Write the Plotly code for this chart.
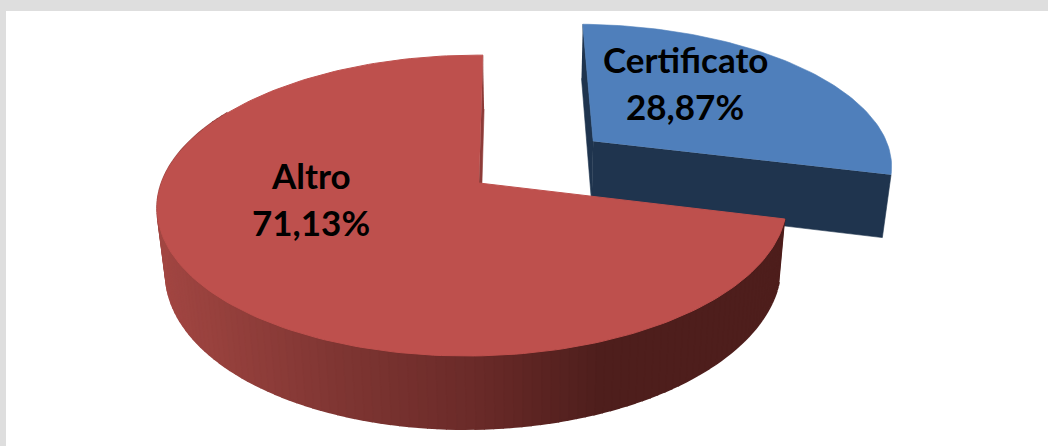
import numpy as np
import plotly.graph_objects as go

# data
categories = ["Certificato", "Altro"]
values = [28.87, 71.13]
colors_top = ["#4F7FBB", "#BE504D"]
color_blue_wall = "#1F344E"
color_red_cut = "#8E3B38"

# projection of the tilted pie onto the page (pixels)
CX, CY = 479, 183
A, B = 311, 147
C_SKEW, E_SKEW = 0, 4.6
K, M = 0.15, 0.02
DEPTH = 62
VANISH_X, SHRINK = 530, 0.023
EXPLODE = 0.485
BLUE_WIDEN = 1.02
BLUE_DEPTH = 1.05


def project(u, v, z=0.0):
    s = 1 / (1 + K * v + M * u)
    x = CX + (A * u + E_SKEW * v) * s
    y = CY + (C_SKEW * u - B * v) * s + z * DEPTH * s
    x = VANISH_X + (x - VANISH_X) * (1 - SHRINK * z)
    return x, y


def polar(theta):
    rad = np.radians(theta)
    return np.sin(rad), np.cos(rad)


def wall_color(x):
    r = np.interp(x, [157, 330, 480, 600, 790], [162, 128, 105, 78, 78])
    g = np.interp(x, [157, 330, 480, 600, 790], [70, 54, 42, 30, 30])
    b = np.interp(x, [157, 330, 480, 600, 790], [66, 51, 40, 28, 28])
    return f"rgb({r:.0f},{g:.0f},{b:.0f})"


def poly(fig, xs, ys, color, width=0.6):
    fig.add_trace(go.Scatter(x=list(xs), y=list(ys), mode="lines", fill="toself",
                             fillcolor=color, line=dict(color=color, width=width),
                             hoverinfo="skip", showlegend=False))


fig = go.Figure()

blue_sweep = values[0] / sum(values) * 360
mid = polar(blue_sweep / 2)
ou, ov = EXPLODE * mid[0], EXPLODE * mid[1]

# exploded slice
theta = np.linspace(0, blue_sweep, 80)
u, v = polar(theta)
u = u * BLUE_WIDEN
x_t, y_t = project(u + ou, v + ov)
ax, ay = project(ou, ov)
ax_b, ay_b = project(ou, ov, BLUE_DEPTH)
xb_s, yb_s = project(u[0] + ou, v[0] + ov, BLUE_DEPTH)
xb_e, yb_e = project(u[-1] + ou, v[-1] + ov, BLUE_DEPTH)
poly(fig, [x_t[0], ax, ax_b, xb_s], [y_t[0], ay, ay_b, yb_s], color_blue_wall)
poly(fig, [ax, x_t[-1], xb_e, ax_b], [ay, y_t[-1], yb_e, ay_b], color_blue_wall)
poly(fig, [ax, *x_t], [ay, *y_t], colors_top[0])

# big slice: outer wall in thin bands for the shading
edges = np.linspace(blue_sweep, 300, 130)
for t0, t1 in zip(edges[:-1], edges[1:]):
    u0, v0 = polar(t0)
    u1, v1 = polar(t1)
    x0, y0 = project(u0, v0)
    x1, y1 = project(u1, v1)
    x2, y2 = project(u1, v1, 1)
    x3, y3 = project(u0, v0, 1)
    poly(fig, [x0, x1, x2, x3], [y0, y1, y2, y3], wall_color((x0 + x1) / 2), width=2)

# cut face beside the gap
x_s, y_s = project(0, 1)
x_sb, y_sb = project(0, 1, 1)
cx_b, cy_b = project(0, 0, 1)
poly(fig, [x_s, CX, cx_b, x_sb], [y_s, CY, cy_b, y_sb], color_red_cut)

theta = np.linspace(blue_sweep, 360, 200)
u, v = polar(theta)
x_t, y_t = project(u, v)
poly(fig, [CX, *x_t], [CY, *y_t], colors_top[1], width=1)

# labels
label_pos = {"Certificato": (685, 59, 106), "Altro": (311, 175, 222)}
for name, val in zip(categories, values):
    lx, ly1, ly2 = label_pos[name]
    for txt, ly in ((name, ly1), (f"{val:.2f}%".replace(".", ","), ly2)):
        fig.add_annotation(x=lx, y=ly, text=txt, showarrow=False,
                           font=dict(family="Lato", size=35, color="#000000", weight="bold"))

fig.add_shape(type="rect", x0=6, y0=11, x1=1048, y1=446, fillcolor="#FFFFFF",
              line_width=0, layer="below")
fig.update_xaxes(range=[0, 1048], visible=False, fixedrange=True)
fig.update_yaxes(range=[446, 0], visible=False, fixedrange=True)
fig.update_layout(width=1048, height=446, margin=dict(l=0, r=0, t=0, b=0),
                  paper_bgcolor="#DEDEDE", plot_bgcolor="#DEDEDE", showlegend=False)
fig.write_html("out.html", config={"displayModeBar": False},
               post_script="document.body.style.margin='0';document.documentElement.style.overflow='hidden';")
